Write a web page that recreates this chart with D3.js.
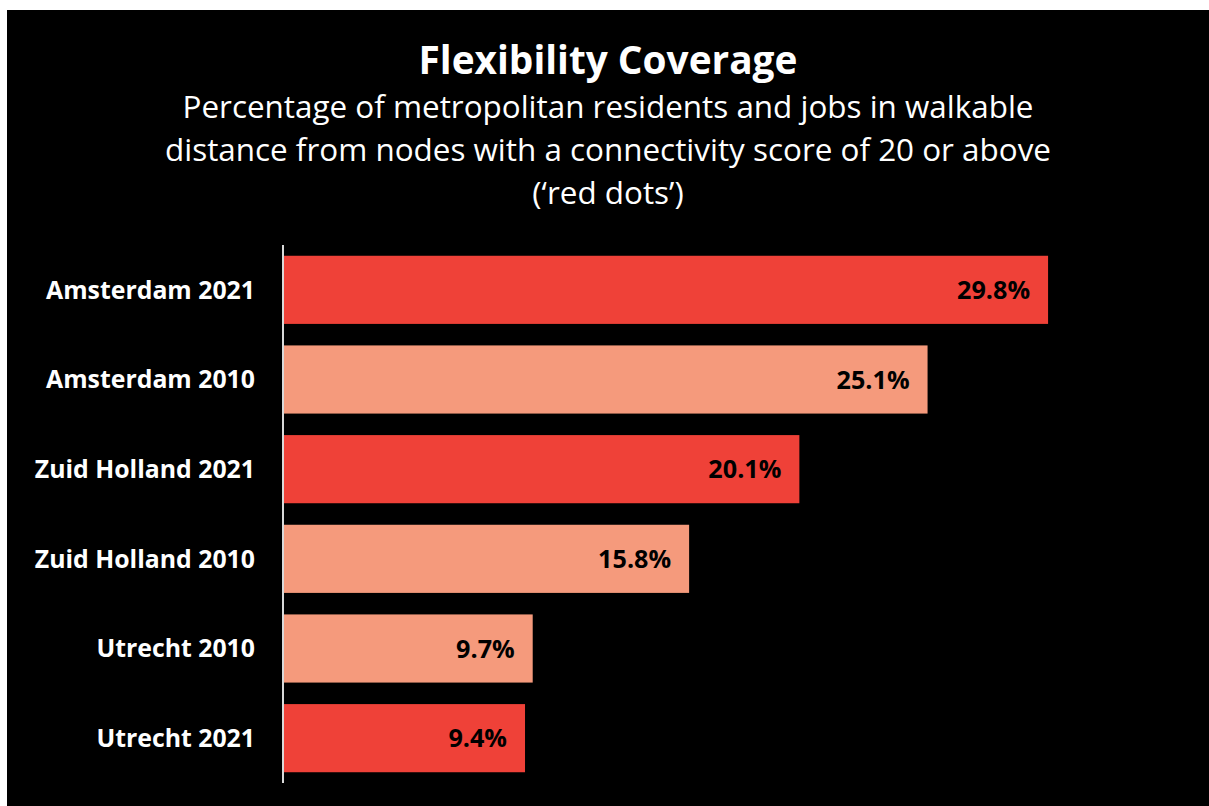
<!DOCTYPE html>
<html>
<head>
<meta charset="utf-8">
<script src="https://cdn.jsdelivr.net/npm/d3@7"></script>
<style>
  html, body { margin: 0; padding: 0; background: #ffffff; }
  svg { display: block; }
</style>
</head>
<body>
<svg id="chart" width="1209" height="806"></svg>
<script>
// Regions and survey years, top to bottom
const categories = ["Amsterdam 2021", "Amsterdam 2010", "Zuid Holland 2021", "Zuid Holland 2010", "Utrecht 2010", "Utrecht 2021"];
// Share of residents and jobs within walking distance (%)
const values = [29.8, 25.1, 20.1, 15.8, 9.7, 9.4];
// Survey year of each bar, used for colouring
const years = ["2021", "2010", "2021", "2010", "2010", "2021"];
const valueLabels = ["29.8%", "25.1%", "20.1%", "15.8%", "9.7%", "9.4%"];

const title = "Flexibility Coverage";
const subtitleLines = [
  "Percentage of metropolitan residents and jobs in walkable",
  "distance from nodes with a connectivity score of 20 or above",
  "(\u2018red dots\u2019)"
];

const FONT = "'Open Sans', 'Noto Sans', sans-serif";
const svg = d3.select("#chart");

// black panel
svg.append("rect")
  .attr("x", 7).attr("y", 10)
  .attr("width", 1209 - 7).attr("height", 806 - 10)
  .attr("fill", "#000000");

const color = d3.scaleOrdinal().domain(["2021", "2010"]).range(["#ef4138", "#f59a7c"]);

const x = d3.scaleLinear().domain([0, 30]).range([284, 284 + 30 * 25.64]);
const y = d3.scaleBand().domain(categories).range([245, 783]).paddingInner(0.24).paddingOuter(0.12);

// Font size that makes a text element's width match a target
function fittedSize(node, target) {
  const fs = parseFloat(node.getAttribute("font-size"));
  const w = node.getComputedTextLength();
  return w > 0 ? +(fs * target / w).toFixed(2) : fs;
}

// title
const t = svg.append("text")
  .attr("x", 608).attr("y", 74)
  .attr("text-anchor", "middle")
  .attr("font-family", FONT).attr("font-weight", 700)
  .attr("font-size", 34).attr("fill", "#ffffff")
  .text(title);
t.attr("font-size", fittedSize(t.node(), 379));

// subtitle, all lines at one size
const subs = svg.append("g").selectAll("text")
  .data(subtitleLines)
  .join("text")
  .attr("x", 608).attr("y", (d, i) => 118 + i * 43)
  .attr("text-anchor", "middle")
  .attr("font-family", FONT).attr("font-weight", 400)
  .attr("font-size", 27).attr("fill", "#ffffff")
  .text(d => d);
subs.attr("font-size", fittedSize(subs.nodes()[1], 886));

// bars
const g = svg.append("g");
g.selectAll("rect.bar")
  .data(categories)
  .join("rect")
  .attr("class", "bar")
  .attr("x", x(0))
  .attr("y", d => y(d))
  .attr("width", (d, i) => x(values[i]) - x(0))
  .attr("height", y.bandwidth())
  .attr("fill", (d, i) => color(years[i]));

// value labels inside bar ends
const vals = g.selectAll("text.val")
  .data(categories)
  .join("text")
  .attr("class", "val")
  .attr("x", (d, i) => x(values[i]) - 18)
  .attr("y", d => y(d) + y.bandwidth() / 2)
  .attr("dy", "0.36em")
  .attr("text-anchor", "end")
  .attr("font-family", FONT).attr("font-weight", 700)
  .attr("font-size", 22).attr("fill", "#000000")
  .text((d, i) => valueLabels[i]);
vals.attr("font-size", fittedSize(vals.nodes()[0], 73));

// category axis
const axis = svg.append("g")
  .attr("transform", `translate(283,0)`)
  .call(d3.axisLeft(y).tickSize(0).tickPadding(28));
axis.select(".domain")
  .attr("d", `M0,245V783`)
  .attr("stroke", "#d9d9d9").attr("stroke-width", 2);
const ticks = axis.selectAll(".tick text")
  .attr("font-family", FONT).attr("font-weight", 700)
  .attr("font-size", 22).attr("fill", "#ffffff")
  .attr("dy", "0.36em");
ticks.attr("font-size", fittedSize(ticks.nodes()[0], 209));
</script>
</body>
</html>
